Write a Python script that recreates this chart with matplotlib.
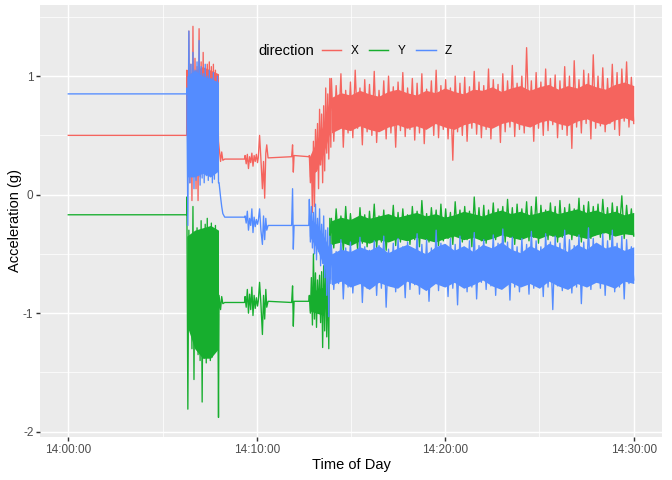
import numpy as np
import matplotlib
matplotlib.use("Agg")
import matplotlib.pyplot as plt

# time is minutes after 14:00:00
tick_pos = [0, 10, 20, 30]
tick_labels = ["14:00:00", "14:10:00", "14:20:00", "14:30:00"]
y_ticks = [-2, -1, 0, 1]
directions = ["X", "Y", "Z"]
colors = {"X": "#F5645E", "Y": "#17AE2E", "Z": "#548CFF"}

# quiet stretches (flat / single spikes), shared times
quiet_t = [0, 6.28, 8.00, 8.08, 8.14, 8.20, 8.30, 9.35, 10.08, 10.15, 10.22, 10.30,
           10.36, 10.42, 10.48, 10.53, 10.60, 11.85, 11.90, 11.94, 11.98, 12.76]
x_quiet = [0.50, 0.50, 0.40, 0.28, 0.36, 0.29, 0.30, 0.30, 0.31, 0.50, 0.30, 0.05,
           0.28, -0.03, 0.35, 0.42, 0.31, 0.32, 0.42, 0.19, 0.33, 0.32]
y_quiet = [-0.17, -0.17, -0.85, -0.97, -0.86, -0.92, -0.91, -0.91, -0.90, -0.74, -0.92, -1.18,
           -0.85, -1.05, -0.80, -0.95, -0.90, -0.91, -0.77, -1.11, -0.90, -0.90]
z_quiet = [0.85, 0.85, 0.10, -0.02, -0.10, -0.16, -0.19, -0.19, -0.22, -0.12, -0.30, -0.42,
           -0.18, -0.38, -0.20, -0.30, -0.26, -0.26, 0.05, -0.46, -0.26, -0.26]

# noisy stretches: (start, end) and upper/lower swings
burst_span = (6.29, 7.97)
mid_span = (9.38, 10.04)
trans_span = (12.79, 13.93)
steady_span = (13.96, 30.0)

x_burst_hi = [1.05, 1.38, 1.10, 1.42, 1.15, 1.08, 1.40, 1.12, 1.20, 1.05, 1.10, 1.12, 1.08, 1.10, 1.05, 1.00]
x_burst_lo = [0.30, 0.10, -0.05, 0.20, 0.05, -0.05, 0.15, 0.25, 0.20, 0.30, 0.25, 0.20, 0.30, 0.35, 0.40, 0.45]
y_burst_hi = [-0.02, -0.30, -0.40, -0.10, -0.35, -0.28, -0.45, -0.22, -0.30, -0.25, -0.20, -0.28, -0.24, -0.30, -0.26, -0.35]
y_burst_lo = [-1.81, -1.10, -1.30, -1.56, -1.25, -1.35, -1.40, -1.75, -1.38, -1.42, -1.35, -1.40, -1.37, -1.30, -1.20, -1.88]
z_burst_hi = [0.90, 1.38, 1.10, 1.20, 1.05, 1.12, 1.30, 1.08, 1.02, 1.10, 1.00, 1.05, 0.98, 1.03, 0.95, 1.00]
z_burst_lo = [-0.26, 0.10, 0.15, 0.05, 0.12, 0.18, 0.08, 0.14, 0.10, 0.16, 0.12, 0.15, 0.10, 0.13, 0.20, 0.10]

x_mid_hi = [0.33, 0.34, 0.32, 0.35, 0.33, 0.34]
x_mid_lo = [0.26, 0.22, 0.27, 0.24, 0.28, 0.27]
y_mid_hi = [-0.86, -0.80, -0.84, -0.78, -0.85, -0.87]
y_mid_lo = [-0.95, -1.00, -0.97, -1.02, -0.96, -0.94]
z_mid_hi = [-0.18, -0.14, -0.20, -0.12, -0.19, -0.21]
z_mid_lo = [-0.24, -0.30, -0.26, -0.32, -0.27, -0.25]

x_trans_hi = [0.33, 0.30, 0.45, 0.55, 0.60, 0.72, 0.68, 0.75, 0.90, 0.85, 0.98]
x_trans_lo = [0.10, -0.15, -0.10, 0.20, 0.05, 0.25, 0.10, 0.20, 0.35, 0.30, 0.40]
y_trans_hi = [-0.85, -0.70, -0.50, -0.66, -0.72, -0.68, -0.65, -0.60, -0.55, -0.70, -0.20]
y_trans_lo = [-1.00, -1.10, -1.05, -1.12, -0.98, -1.08, -1.29, -1.15, -1.20, -1.30, -0.55]
z_trans_hi = [-0.04, -0.10, -0.15, -0.08, -0.20, -0.12, -0.25, -0.18, -0.30, -0.28, -0.35]
z_trans_lo = [-0.40, -0.45, -0.50, -0.55, -0.48, -0.60, -0.58, -0.70, -0.85, -1.03, -0.75]

x_steady_hi = [0.98, 0.92, 1.02, 0.88, 0.95, 1.05, 0.90, 0.97,
               0.93, 1.04, 0.88, 0.96, 1.00, 0.91, 0.95, 1.03,
               0.90, 0.98, 0.94, 1.02, 0.89, 0.96, 1.05, 0.92,
               0.97, 0.90, 1.00, 0.94, 0.99, 0.91, 1.04, 0.95,
               0.92, 1.06, 0.97, 0.93, 1.02, 0.96, 1.09, 0.94,
               1.00, 1.24, 0.96, 1.03, 0.95, 1.06, 0.98, 1.01,
               0.96, 1.08, 1.00, 1.13, 0.97, 1.05, 1.02, 1.18,
               1.00, 1.07, 0.98, 1.10, 1.03, 1.06, 1.12, 0.99]
x_steady_lo = [0.45, 0.55, 0.40, 0.52, 0.48, 0.56, 0.42, 0.53,
               0.50, 0.44, 0.55, 0.47, 0.52, 0.40, 0.54, 0.49,
               0.55, 0.46, 0.52, 0.43, 0.57, 0.50, 0.48, 0.55,
               0.47, 0.29, 0.53, 0.50, 0.45, 0.56, 0.51, 0.48,
               0.55, 0.47, 0.58, 0.44, 0.53, 0.57, 0.49, 0.55,
               0.52, 0.58, 0.45, 0.56, 0.50, 0.54, 0.59, 0.48,
               0.55, 0.50, 0.39, 0.57, 0.52, 0.60, 0.47, 0.56,
               0.58, 0.53, 0.60, 0.55, 0.50, 0.62, 0.57, 0.60]
y_steady_hi = [-0.20, -0.12, -0.18, -0.10, -0.16, -0.22, -0.11, -0.17,
               -0.14, -0.08, -0.18, -0.13, -0.20, -0.09, -0.15, -0.12,
               -0.17, -0.10, -0.14, -0.05, -0.16, -0.11, -0.13, -0.08,
               -0.12, -0.15, -0.06, -0.13, -0.10, -0.14, -0.02, -0.11,
               -0.09, -0.13, -0.07, -0.12, -0.10, -0.04, -0.11, -0.08,
               -0.12, -0.06, -0.10, -0.02, -0.09, -0.13, -0.07, -0.10,
               -0.05, -0.11, -0.08, -0.12, -0.03, -0.09, -0.06, -0.10,
               -0.08, -0.04, -0.11, -0.07, -0.10, -0.01, -0.09, -0.12]
y_steady_lo = [-0.45, -0.40, -0.48, -0.42, -0.38, -0.46, -0.41, -0.44,
               -0.39, -0.45, -0.40, -0.47, -0.37, -0.43, -0.40, -0.36,
               -0.42, -0.38, -0.44, -0.36, -0.40, -0.35, -0.43, -0.39,
               -0.37, -0.42, -0.35, -0.40, -0.38, -0.44, -0.36, -0.39,
               -0.41, -0.35, -0.38, -0.33, -0.40, -0.36, -0.42, -0.37,
               -0.34, -0.39, -0.36, -0.41, -0.33, -0.38, -0.35, -0.40,
               -0.36, -0.33, -0.38, -0.35, -0.40, -0.32, -0.37, -0.34,
               -0.36, -0.31, -0.38, -0.34, -0.30, -0.37, -0.33, -0.35]
z_steady_hi = [-0.42, -0.48, -0.38, -0.45, -0.40, -0.50, -0.36, -0.44,
               -0.47, -0.39, -0.43, -0.35, -0.46, -0.41, -0.37, -0.44,
               -0.40, -0.46, -0.33, -0.42, -0.38, -0.45, -0.30, -0.41,
               -0.44, -0.37, -0.42, -0.35, -0.47, -0.39, -0.32, -0.43,
               -0.38, -0.45, -0.34, -0.41, -0.29, -0.40, -0.36, -0.44,
               -0.37, -0.42, -0.31, -0.39, -0.44, -0.33, -0.40, -0.35,
               -0.41, -0.30, -0.38, -0.43, -0.34, -0.40, -0.28, -0.37,
               -0.42, -0.33, -0.39, -0.30, -0.41, -0.35, -0.38, -0.44]
z_steady_lo = [-0.80, -0.75, -0.88, -0.78, -0.83, -0.74, -0.91, -0.79,
               -0.76, -0.85, -0.79, -0.95, -0.77, -0.82, -0.74, -0.87,
               -0.80, -0.76, -0.84, -0.78, -0.90, -0.75, -0.81, -0.77,
               -0.86, -0.79, -0.93, -0.76, -0.82, -0.78, -0.88, -0.74,
               -0.80, -0.77, -0.85, -0.79, -0.75, -0.89, -0.78, -0.82,
               -0.76, -0.84, -0.79, -0.74, -0.86, -0.78, -0.97, -0.77,
               -0.81, -0.75, -0.83, -0.78, -0.92, -0.76, -0.80, -0.74,
               -0.79, -0.85, -0.76, -0.82, -0.78, -0.88, -0.75, -0.72]

# dense core of each noisy stretch (where samples pile up)
x_burst_core = ([1.00, 1.05, 1.08, 1.05, 1.02], [0.20, 0.20, 0.22, 0.25, 0.30])
y_burst_core = ([-0.35, -0.30, -0.28, -0.26, -0.30], [-1.10, -1.30, -1.38, -1.38, -1.30])
z_burst_core = ([1.00, 1.05, 1.00, 0.98, 0.95], [0.15, 0.15, 0.18, 0.15, 0.20])
x_trans_core = ([0.32, 0.45, 0.60, 0.85], [0.15, 0.20, 0.35, 0.55])
y_trans_core = ([-0.85, -0.80, -0.78, -0.40], [-0.98, -1.00, -1.02, -0.45])
z_trans_core = ([-0.20, -0.25, -0.35, -0.48], [-0.35, -0.45, -0.60, -0.72])
x_steady_core = ([0.82, 0.86, 0.84, 0.88, 0.85, 0.83, 0.87, 0.89, 0.86, 0.84, 0.88, 0.86, 0.90, 0.87, 0.85, 0.89, 0.88,
                  0.91, 0.87, 0.90, 0.92, 0.88, 0.91, 0.93, 0.89, 0.92, 0.90, 0.94, 0.91, 0.89, 0.93, 0.95, 0.92],
                 [0.52, 0.56, 0.54, 0.58, 0.55, 0.53, 0.57, 0.59, 0.56, 0.58, 0.55, 0.60, 0.57, 0.55, 0.59, 0.61, 0.58,
                  0.56, 0.60, 0.62, 0.59, 0.57, 0.61, 0.63, 0.60, 0.58, 0.62, 0.64, 0.61, 0.59, 0.63, 0.65, 0.62])
y_steady_core = ([-0.22, -0.19, -0.21, -0.17, -0.20, -0.18, -0.16, -0.19, -0.17, -0.15, -0.18, -0.16, -0.19, -0.17, -0.14,
                  -0.16, -0.18, -0.15, -0.13, -0.16, -0.14, -0.17, -0.15, -0.13, -0.16, -0.14, -0.12, -0.15, -0.13, -0.16,
                  -0.14, -0.17, -0.15],
                 [-0.42, -0.40, -0.43, -0.39, -0.41, -0.38, -0.40, -0.37, -0.39, -0.36, -0.38, -0.40, -0.37, -0.35, -0.38,
                  -0.36, -0.39, -0.37, -0.34, -0.36, -0.38, -0.35, -0.37, -0.34, -0.36, -0.33, -0.35, -0.37, -0.34, -0.32,
                  -0.35, -0.33, -0.34])
z_steady_core = ([-0.50, -0.46, -0.48, -0.44, -0.47, -0.43, -0.49, -0.45, -0.42, -0.46, -0.50, -0.44, -0.41, -0.47, -0.43,
                  -0.48, -0.42, -0.45, -0.40, -0.46, -0.49, -0.43, -0.47, -0.41, -0.44, -0.48, -0.42, -0.46, -0.40, -0.45,
                  -0.43, -0.47, -0.44],
                 [-0.76, -0.73, -0.78, -0.75, -0.80, -0.74, -0.77, -0.79, -0.73, -0.76, -0.81, -0.75, -0.78, -0.74, -0.79,
                  -0.76, -0.72, -0.77, -0.80, -0.74, -0.78, -0.75, -0.79, -0.73, -0.77, -0.80, -0.75, -0.78, -0.74, -0.76,
                  -0.79, -0.73, -0.75])


def swing(span, hi, lo):
    # interleave upper and lower swings across the span
    t = np.linspace(span[0], span[1], 2 * len(hi))
    v = np.empty(2 * len(hi))
    v[0::2] = hi
    v[1::2] = lo
    return t, v


def build(quiet, parts):
    ts = [np.array(quiet_t)]
    vs = [np.array(quiet)]
    for span, hi, lo in parts:
        t, v = swing(span, hi, lo)
        ts.append(t)
        vs.append(v)
    t = np.concatenate(ts)
    v = np.concatenate(vs)
    order = np.argsort(t, kind="stable")
    return t[order], v[order]


series = {
    "X": build(x_quiet, [(burst_span, x_burst_hi, x_burst_lo), (mid_span, x_mid_hi, x_mid_lo),
                         (trans_span, x_trans_hi, x_trans_lo), (steady_span, x_steady_hi, x_steady_lo)]),
    "Y": build(y_quiet, [(burst_span, y_burst_hi, y_burst_lo), (mid_span, y_mid_hi, y_mid_lo),
                         (trans_span, y_trans_hi, y_trans_lo), (steady_span, y_steady_hi, y_steady_lo)]),
    "Z": build(z_quiet, [(burst_span, z_burst_hi, z_burst_lo), (mid_span, z_mid_hi, z_mid_lo),
                         (trans_span, z_trans_hi, z_trans_lo), (steady_span, z_steady_hi, z_steady_lo)]),
}
cores = {
    "X": [(burst_span, x_burst_core), (trans_span, x_trans_core), (steady_span, x_steady_core)],
    "Y": [(burst_span, y_burst_core), (trans_span, y_trans_core), (steady_span, y_steady_core)],
    "Z": [(burst_span, z_burst_core), (trans_span, z_trans_core), (steady_span, z_steady_core)],
}

plt.rcParams['font.family'] = ['Liberation Sans', 'DejaVu Sans']

fig = plt.figure(figsize=(7, 5), dpi=96)
ax = fig.add_axes([40 / 672, 43 / 480, 622 / 672, 432 / 480])
ax.set_facecolor("#EBEBEB")

for k, d in enumerate(directions):
    t, v = series[d]
    ax.plot(t, v, color=colors[d], lw=1.0, label=d, zorder=3 + k)
    for span, (hi, lo) in cores[d]:
        tc = np.linspace(span[0], span[1], len(hi))
        ax.fill_between(tc, lo, hi, color=colors[d], lw=0, zorder=3 + k)

ax.set_xlim(-1.5, 31.5)
ax.set_ylim(-2.045, 1.6)
ax.set_xticks(tick_pos)
ax.set_xticklabels(tick_labels)
ax.set_xticks([5, 15, 25], minor=True)
ax.set_yticks(y_ticks)
ax.set_yticklabels([str(y) for y in y_ticks])
ax.set_yticks([-1.5, -0.5, 0.5, 1.5], minor=True)
ax.grid(which="major", color="white", lw=1.07, zorder=0)
ax.grid(which="minor", color="white", lw=0.53, zorder=0)
ax.set_axisbelow(True)
for s in ax.spines.values():
    s.set_visible(False)
ax.tick_params(which="major", length=2.75, width=1.07, color="#333333", pad=2.2,
               labelsize=8.8, labelcolor="#4D4D4D")
ax.tick_params(which="minor", length=0)

ax.set_xlabel("Time of Day", fontsize=11)
ax.xaxis.set_label_coords(0.5, -(465 - 437) / 432)
ax.xaxis.label.set_va("center")
ax.set_ylabel("Acceleration (g)", fontsize=11)
ax.yaxis.set_label_coords(-(40 - 15) / 622, (437 - 221) / 432)
ax.yaxis.label.set_va("center")

leg = ax.legend(handles=[plt.Line2D([], [], color=colors[d], lw=1.1) for d in directions],
                labels=directions, ncol=3, frameon=False, fontsize=8.8,
                handlelength=1.65, handletextpad=0.8, columnspacing=0.9, borderpad=0,
                loc="center left", bbox_to_anchor=(316 / 672, 1 - 51 / 480),
                bbox_transform=fig.transFigure)
fig.text(258 / 672, 1 - 51 / 480, "direction", fontsize=11, ha="left", va="center")

fig.savefig("out.png", dpi=96)
